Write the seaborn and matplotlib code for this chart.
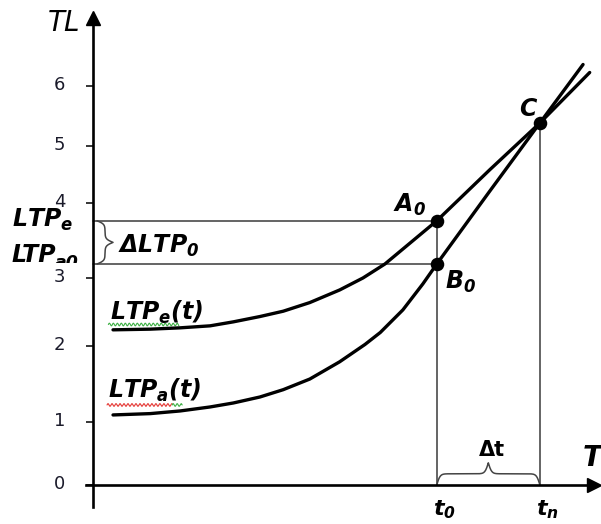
import numpy as np
import pandas as pd
import seaborn as sns
import matplotlib.pyplot as plt
from matplotlib.transforms import ScaledTranslation, Bbox, TransformedBbox

# values (x = time, y = TL level)
t_e = [0.30, 0.86, 1.31, 1.76, 2.11, 2.51, 2.86, 3.26, 3.71, 4.06, 4.39, 4.81, 5.17, 5.97, 6.72, 7.47]
ltp_e = [2.33, 2.34, 2.36, 2.39, 2.45, 2.53, 2.61, 2.74, 2.93, 3.11, 3.32, 3.67, 3.97, 4.74, 5.44, 6.20]
t_a = [0.30, 0.86, 1.31, 1.76, 2.11, 2.51, 2.86, 3.26, 3.71, 4.09, 4.32, 4.66, 4.96, 5.17, 5.97, 6.72, 7.37]
ltp_a = [1.05, 1.07, 1.11, 1.17, 1.23, 1.32, 1.43, 1.59, 1.85, 2.11, 2.29, 2.63, 3.02, 3.32, 4.42, 5.44, 6.32]

point_t = [5.17, 5.17, 6.72]    # A0, B0, C
point_tl = [3.97, 3.32, 5.44]

t0 = 5.17
tn = 6.72
ltp_e0 = 3.97
ltp_a0 = 3.32

ytick_pos = [0, 0.95, 2.09, 3.11, 4.24, 5.10, 6.00]
ytick_labels = ["0", "1", "2", "3", "4", "5", "6"]

sns.set_style("white")
plt.rcParams["font.family"] = ["DejaVu Sans"]
plt.rcParams["mathtext.fontset"] = "custom"
plt.rcParams["mathtext.it"] = "DejaVu Sans:italic:bold"
plt.rcParams["mathtext.rm"] = "DejaVu Sans:italic:bold"
plt.rcParams["mathtext.bf"] = "DejaVu Sans:italic:bold"

fig = plt.figure(figsize=(6.01, 5.24), dpi=100)
ax = fig.add_axes([0, 0, 1, 1])
ax.set_xlim(-1.40, 7.64)
ax.set_ylim(-0.59, 7.29)

# axes through the origin, with arrow heads
for s in ["top", "right"]:
    ax.spines[s].set_visible(False)
ax.spines["left"].set_position(("data", 0))
ax.spines["bottom"].set_position(("data", 0))
ax.spines["left"].set_bounds(-0.33, 7.0)
ax.spines["bottom"].set_bounds(-0.10, 7.5)
for s in ["left", "bottom"]:
    ax.spines[s].set_linewidth(1.9)
    ax.spines[s].set_color("black")
ax.plot(0, 7.02, "^", color="black", ms=9.5, clip_on=False)
ax.plot(7.54, 0, ">", color="black", ms=9.5, clip_on=False)

ax.set_yticks(ytick_pos, ytick_labels)
ax.tick_params(axis="y", direction="out", length=5, width=1.3, pad=15,
               labelsize=13, left=True, labelcolor="#1a1a2a")
ax.set_xticks([t0, tn], ["t$_0$", "t$_n$"])
ax.tick_params(axis="x", length=0, pad=10, labelsize=16, labelcolor="black")
for lab in ax.get_yticklabels():
    lab.set_transform(lab.get_transform() + ScaledTranslation(0, 0.03, fig.dpi_scale_trans))
for lab in ax.get_xticklabels():
    lab.set_fontstyle("italic")
    lab.set_fontweight("bold")
    lab.set_transform(lab.get_transform() + ScaledTranslation(0.08, 0, fig.dpi_scale_trans))

# guide lines
guide = dict(color="#3a3a3a", lw=1.1, zorder=2)
ax.plot([0, t0], [ltp_e0, ltp_e0], **guide)
ax.plot([0, t0], [ltp_a0, ltp_a0], **guide)
ax.plot([t0, t0], [0, ltp_e0], **guide)
ax.plot([tn, tn], [0, point_tl[2]], **guide)

# curves
curves = pd.DataFrame({"t": t_e + t_a, "TL": ltp_e + ltp_a,
                       "curve": ["e"] * len(t_e) + ["a"] * len(t_a)})
sns.lineplot(data=curves, x="t", y="TL", units="curve", estimator=None, sort=False,
             color="black", lw=2.4, ax=ax, zorder=3)
sns.scatterplot(x=point_t, y=point_tl, color="black", s=95, edgecolor="black",
                linewidth=0, ax=ax, zorder=4)
ax.set_xlabel("")
ax.set_ylabel("")


def brace(x0, y0, x1, y1, depth, beta=40):
    # curly brace from (x0,y0) to (x1,y1), bulging to the left of the direction
    n = 201
    L = np.hypot(x1 - x0, y1 - y0)
    u = np.linspace(0, L, n)
    half = u[:n // 2 + 1]
    prof = 1 / (1 + np.exp(-beta * (half - half[0]))) + 1 / (1 + np.exp(-beta * (half - half[-1])))
    prof = np.concatenate([prof, prof[-2::-1]]) - 0.5
    dx, dy = (x1 - x0) / L, (y1 - y0) / L
    nx, ny = -dy, dx
    xs = x0 + u * dx + prof * depth * nx
    ys = y0 + u * dy + prof * depth * ny
    ax.plot(xs, ys, color="#444444", lw=1.1, zorder=2, solid_capstyle="round")


brace(0.06, ltp_e0, 0.06, ltp_a0, 0.24)
brace(t0, 0.0, tn, 0.0, 0.33)


def squiggle(x0, x1, y, color):
    xs = np.linspace(x0, x1, 200)
    ax.plot(xs, y + 0.02 * np.sin(2 * np.pi * (xs - x0) / 0.06), color=color, lw=0.8, zorder=2)


lbl = dict(fontsize=17, fontstyle="italic", fontweight="bold", color="black", zorder=5)
ax.text(-0.44, 6.95, "TL", fontsize=20, fontstyle="italic", color="black", ha="center", va="center")
ax.text(7.37, 0.41, "T", fontsize=20, fontstyle="italic", fontweight="bold", color="black",
        ha="left", va="center")
ax.text(-1.22, 3.88, "LTP$_e$", ha="left", va="baseline", **lbl)
# LTP_a0: the subscript is cut by the LTP_a0 level line, as in the sketch
ax.text(-1.22, 3.35, "LTP", ha="left", va="baseline", **lbl)
sub_a0 = ax.text(-0.58, 3.26, "a0", ha="left", va="baseline", fontsize=12.5,
                 fontstyle="italic", fontweight="bold", color="black")
sub_a0.set_clip_box(TransformedBbox(Bbox([[-1.4, ltp_a0 + 0.01], [0, 4.5]]), ax.transData))
sub_a0.set_clip_on(True)
ax.text(0.38, 3.49, "ΔLTP$_0$", ha="left", va="baseline", **lbl)
ax.text(0.26, 2.48, "LTP$_e$(t)", ha="left", va="baseline", **lbl)
ax.text(0.23, 1.31, "LTP$_a$(t)", ha="left", va="baseline", **lbl)
ax.text(4.51, 4.11, "A$_0$", ha="left", va="baseline", **lbl)
ax.text(5.29, 2.95, "B$_0$", ha="left", va="baseline", **lbl)
ax.text(6.54, 5.65, "C", ha="center", va="center", **lbl)
ax.text(6.0, 0.53, "Δt", fontsize=15, fontweight="bold", color="black", ha="center", va="center")

squiggle(0.23, 1.29, 2.41, "#3cb043")
squiggle(0.21, 1.19, 1.20, "#e53935")
squiggle(1.19, 1.34, 1.20, "#3cb043")

fig.savefig("out.png", dpi=100)
